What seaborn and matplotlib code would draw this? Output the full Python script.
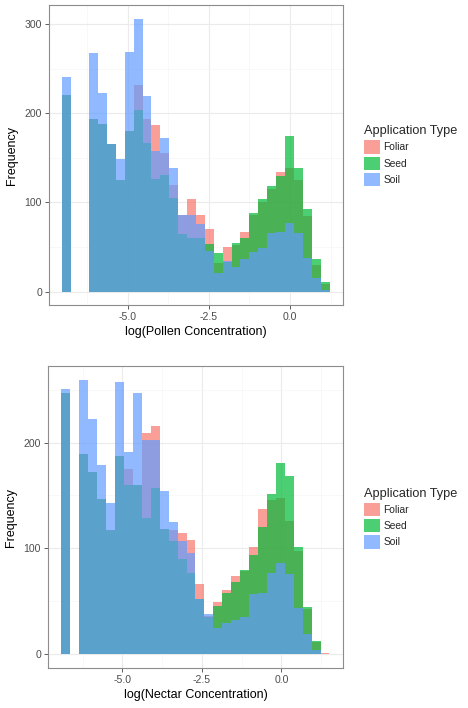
import numpy as np
import pandas as pd
import matplotlib
matplotlib.use("Agg")
import matplotlib.pyplot as plt
from matplotlib.patches import Patch
from matplotlib.ticker import MultipleLocator, FixedLocator
import seaborn as sns

# ---------------- data (per-bin counts) ----------------
types = ["Foliar", "Seed", "Soil"]
colors = ["#F8766D", "#00BA38", "#619CFF"]

pollen_start = -7.008
pollen_width = 0.2742
pollen_foliar = [220, 0, 0, 193, 188, 165, 125, 180, 231, 193, 187, 155, 119, 86, 104,
                 86, 70, 32, 50, 52, 67, 86, 100, 115, 134, 139, 125, 85, 30, 8]
pollen_seed = [220, 0, 0, 193, 188, 165, 125, 180, 204, 167, 126, 131, 105, 64, 60,
               60, 53, 43, 33, 54, 60, 88, 104, 118, 129, 174, 139, 93, 36, 11]
pollen_soil = [240, 0, 0, 267, 223, 165, 149, 269, 306, 219, 157, 172, 139, 86, 86,
               76, 45, 21, 34, 27, 36, 44, 49, 66, 67, 77, 66, 38, 15, 2]

nectar_start = -6.922
nectar_width = 0.2812
nectar_foliar = [247, 0, 189, 172, 147, 117, 187, 175, 160, 209, 216, 118, 117, 115, 108,
                 66, 36, 49, 61, 74, 79, 101, 137, 146, 148, 126, 98, 43, 12, 1]
nectar_seed = [247, 0, 189, 172, 147, 117, 187, 160, 160, 129, 157, 118, 107, 90, 77,
               52, 35, 46, 58, 68, 80, 94, 120, 151, 181, 168, 101, 45, 13, 0]
nectar_soil = [251, 0, 259, 222, 179, 143, 257, 191, 247, 202, 202, 154, 125, 107, 96,
               52, 38, 25, 30, 32, 35, 57, 58, 77, 86, 76, 44, 19, 4, 0]

x_ticks = [-5.0, -2.5, 0.0]
x_tick_labels = ["-5.0", "-2.5", "0.0"]
pollen_y_ticks = [0, 100, 200, 300]
nectar_y_ticks = [0, 100, 200]

# ---------------- style ----------------
sns.set_style("white")
plt.rcParams["font.family"] = ["Liberation Sans", "DejaVu Sans"]

ALPHA = 0.7
fig = plt.figure(figsize=(4.68, 7.08), dpi=100)
ax1 = fig.add_axes([0.1047, 0.569, 0.628, 0.424])
ax2 = fig.add_axes([0.1026, 0.0565, 0.630, 0.426])


def draw(ax, start, width, series, xlabel, yticks, legend_y):
    n = len(series[0])
    edges = start + width * np.arange(n + 1)
    centers = edges[:-1] + width / 2
    for t, c, counts in zip(types, colors, series):
        df = pd.DataFrame({"x": centers, "w": np.asarray(counts, dtype=float)})
        sns.histplot(data=df, x="x", weights="w", bins=[float(e) for e in edges],
                     element="step", fill=True, color=c, alpha=ALPHA,
                     linewidth=0, edgecolor="none", ax=ax)
    # ggplot-like 5% expansion
    xr = edges[-1] - edges[0]
    ax.set_xlim(edges[0] - 0.05 * xr, edges[-1] + 0.05 * xr)
    ymax = max(max(s) for s in series)
    ax.set_ylim(-0.05 * ymax, 1.05 * ymax)

    ax.xaxis.set_major_locator(FixedLocator(x_ticks))
    ax.set_xticklabels(x_tick_labels)
    ax.xaxis.set_minor_locator(MultipleLocator(1.25))
    ax.yaxis.set_major_locator(FixedLocator(yticks))
    ax.set_yticklabels([str(v) for v in yticks])
    ax.yaxis.set_minor_locator(MultipleLocator(50))

    ax.set_axisbelow(True)
    ax.grid(which="major", color="#ebebeb", linewidth=0.8)
    ax.grid(which="minor", color="#f5f5f5", linewidth=0.5)
    ax.tick_params(which="major", direction="out", length=3, width=0.6,
                   color="#444444", labelcolor="#4d4d4d", labelsize=7.6, pad=2,
                   bottom=True, left=True)
    ax.tick_params(which="minor", length=0)
    for sp in ax.spines.values():
        sp.set_color("#8c8c8c")
        sp.set_linewidth(0.8)

    ax.set_xlabel(xlabel, fontsize=9.0, color="black", labelpad=3)
    ax.set_ylabel("Frequency", fontsize=9.0, color="black", labelpad=5)

    handles = [Patch(facecolor=c, alpha=ALPHA, edgecolor="none", label=t)
               for t, c in zip(types, colors)]
    ax.legend(handles=handles, title="Application Type",
              loc="center left", bbox_to_anchor=(0.778, legend_y),
              bbox_transform=fig.transFigure, frameon=False,
              fontsize=7.4, title_fontsize=9.2, handlelength=1.5,
              handleheight=1.6, handletextpad=0.35, labelspacing=0.3,
              borderpad=0, borderaxespad=0, alignment="left")


draw(ax1, pollen_start, pollen_width, [pollen_foliar, pollen_seed, pollen_soil],
     "log(Pollen Concentration)", pollen_y_ticks, 0.780)
draw(ax2, nectar_start, nectar_width, [nectar_foliar, nectar_seed, nectar_soil],
     "log(Nectar Concentration)", nectar_y_ticks, 0.268)

fig.savefig("out.png", dpi=100)
